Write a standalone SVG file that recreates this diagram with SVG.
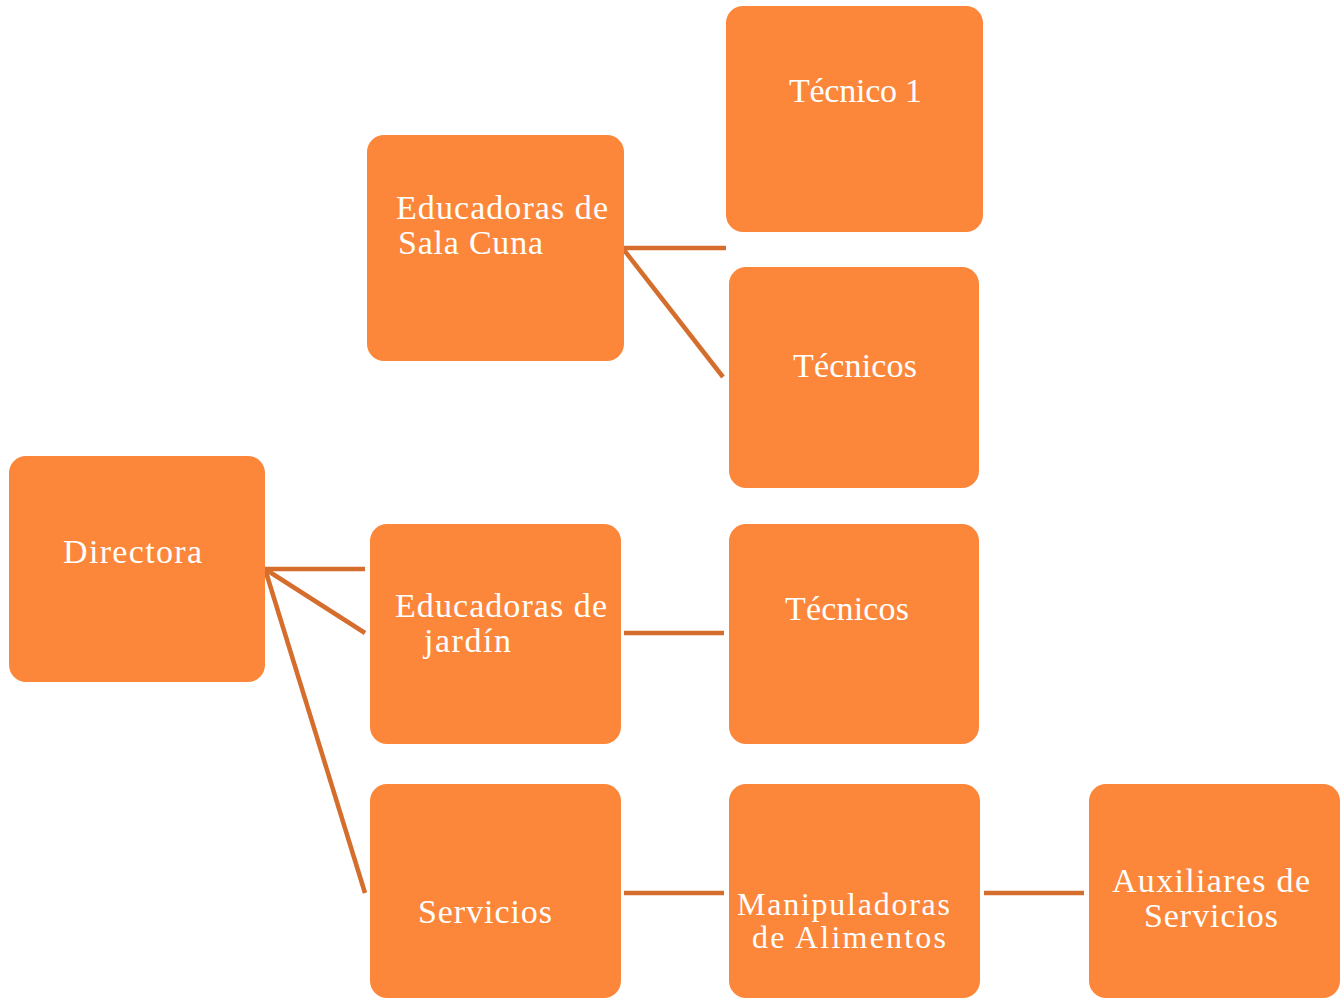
<svg xmlns="http://www.w3.org/2000/svg" width="1344" height="999" viewBox="0 0 1344 999">
<style>
.box{fill:#FC873A;}
.lbl{font-family:"Liberation Serif","Times New Roman",serif;font-size:34px;fill:#FFFFFF;}
.tight{font-size:32px;}
.con{stroke:#D56E2C;stroke-width:4.5;fill:none;stroke-linecap:butt;}
</style>
<rect width="1344" height="999" fill="#FFFFFF"/>
<g id="connectors">
<line class="con" x1="265" y1="569" x2="365" y2="569"/>
<line class="con" x1="265" y1="569" x2="365" y2="633"/>
<line class="con" x1="265" y1="569" x2="365" y2="893"/>
<line class="con" x1="624" y1="248" x2="726" y2="248"/>
<line class="con" x1="624" y1="250" x2="723" y2="377"/>
<line class="con" x1="624" y1="633" x2="724" y2="633"/>
<line class="con" x1="624" y1="893" x2="724" y2="893"/>
<line class="con" x1="984" y1="893" x2="1084" y2="893"/>
</g>
<g id="tecnico1">
<rect class="box" x="726" y="6" width="257" height="226" rx="17"/>
<text class="lbl" x="789" y="102" textLength="133" lengthAdjust="spacing">Técnico 1</text>
</g>
<g id="sala-cuna">
<rect class="box" x="367" y="135" width="257" height="226" rx="17"/>
<text class="lbl" x="396" y="219" textLength="212" lengthAdjust="spacing">Educadoras de</text>
<text class="lbl" x="398" y="254" textLength="145" lengthAdjust="spacing">Sala Cuna</text>
</g>
<g id="tecnicos-1">
<rect class="box" x="729" y="267" width="250" height="221" rx="17"/>
<text class="lbl" x="793" y="377" textLength="124" lengthAdjust="spacing">Técnicos</text>
</g>
<g id="directora">
<rect class="box" x="9" y="456" width="256" height="226" rx="17"/>
<text class="lbl" x="63" y="563" textLength="139" lengthAdjust="spacing">Directora</text>
</g>
<g id="jardin">
<rect class="box" x="370" y="524" width="251" height="220" rx="17"/>
<text class="lbl" x="395" y="617" textLength="212" lengthAdjust="spacing">Educadoras de</text>
<text class="lbl" x="424" y="652" textLength="87" lengthAdjust="spacing">jardín</text>
</g>
<g id="tecnicos-2">
<rect class="box" x="729" y="524" width="250" height="220" rx="17"/>
<text class="lbl" x="785" y="620" textLength="124" lengthAdjust="spacing">Técnicos</text>
</g>
<g id="servicios">
<rect class="box" x="370" y="784" width="251" height="214" rx="17"/>
<text class="lbl" x="418" y="923" textLength="134" lengthAdjust="spacing">Servicios</text>
</g>
<g id="manipuladoras">
<rect class="box" x="729" y="784" width="251" height="214" rx="17"/>
<text class="lbl tight" x="737" y="915" textLength="213" lengthAdjust="spacing">Manipuladoras</text>
<text class="lbl tight" x="752" y="948" textLength="194" lengthAdjust="spacing">de Alimentos</text>
</g>
<g id="auxiliares">
<rect class="box" x="1089" y="784" width="251" height="214" rx="17"/>
<text class="lbl" x="1112" y="892" textLength="198" lengthAdjust="spacing">Auxiliares de</text>
<text class="lbl" x="1144" y="927" textLength="134" lengthAdjust="spacing">Servicios</text>
</g>
</svg>
